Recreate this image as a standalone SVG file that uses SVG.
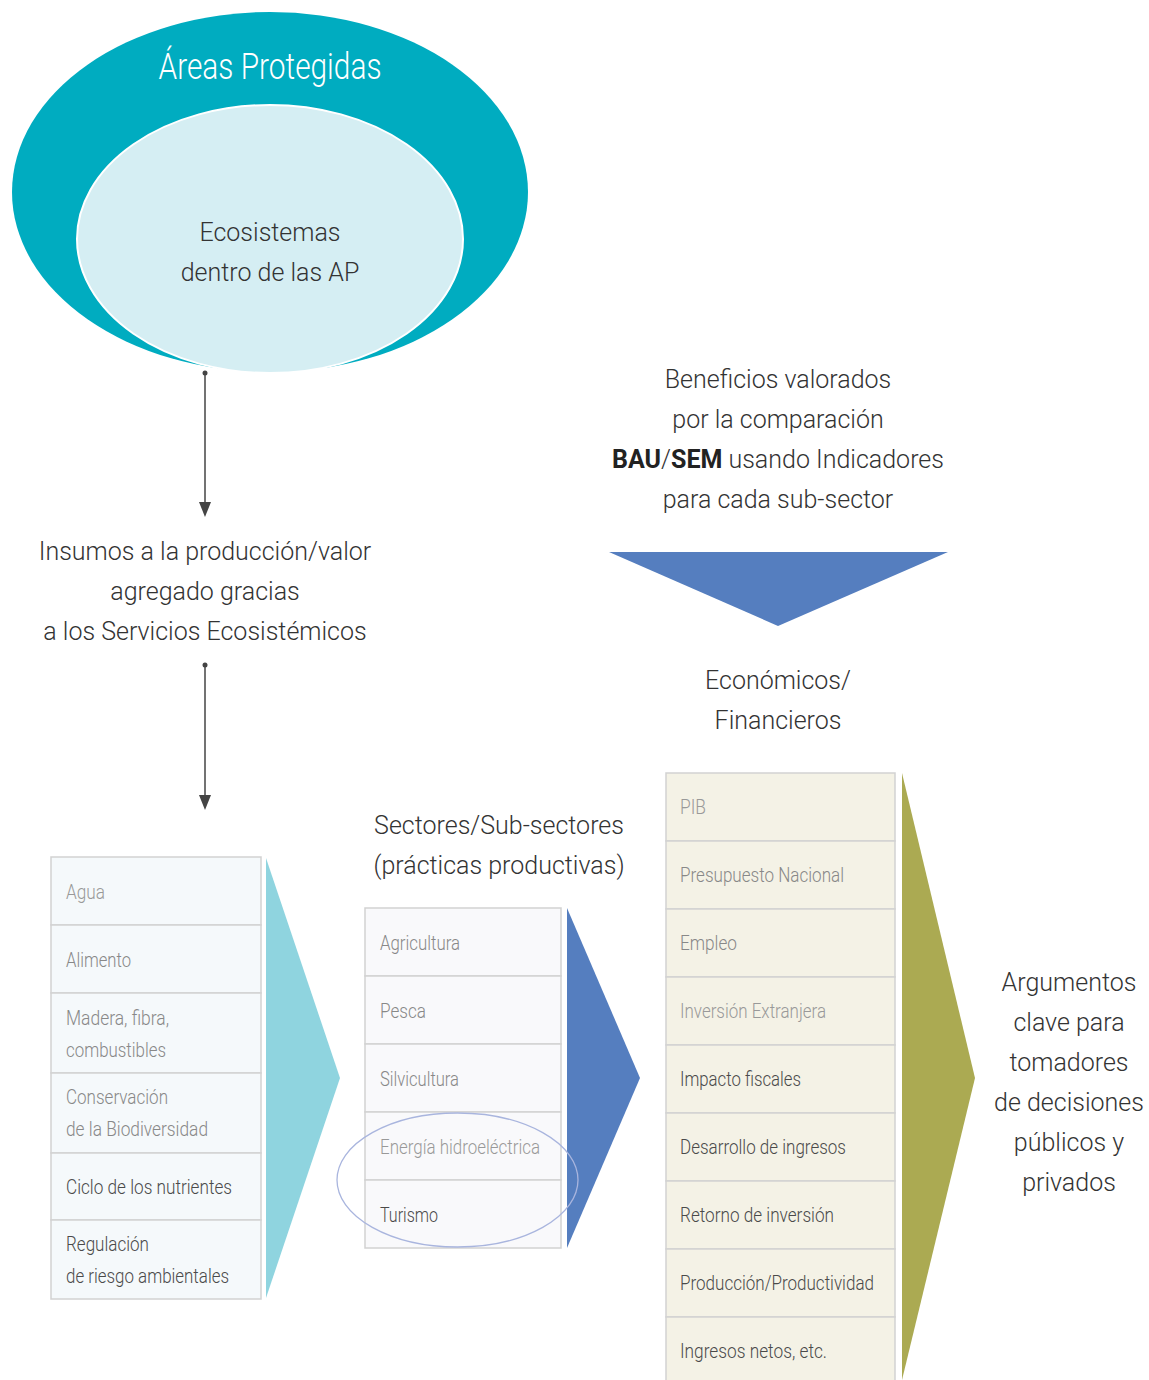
<svg xmlns="http://www.w3.org/2000/svg" width="1149" height="1380" viewBox="0 0 1149 1380">
<style>
.body{font-family:Roboto,"Liberation Sans",sans-serif;font-weight:300;font-size:25px;fill:#333;text-anchor:middle}
.cond text{font-family:Roboto,"Liberation Sans",sans-serif;font-size:21px;font-weight:300}
.l1{fill:#999}.l2{fill:#888}.l3{fill:#4a4a4a}
.cellL{fill:#f5f9fb;stroke:#d2d2d2;stroke-width:1.5}
.cellM{fill:#f9f9fb;stroke:#d2d2d2;stroke-width:1.5}
.cellR{fill:#f4f2e6;stroke:#d2d2d2;stroke-width:1.5}
.conn{stroke:#444;stroke-width:1.5;fill:none}
.head{fill:#444}
</style>
<g id="areas-protegidas">
<ellipse cx="270" cy="192" rx="258" ry="180" fill="#00acc0"/>
<text x="270" y="79" font-family="Roboto,'Liberation Sans',sans-serif" font-weight="300" font-size="37" fill="#fff" text-anchor="middle" textLength="223" lengthAdjust="spacingAndGlyphs">Áreas Protegidas</text>
</g>
<g id="ecosistemas">
<ellipse cx="270" cy="239" rx="193" ry="134" fill="#d5eef3" stroke="#fff" stroke-width="2"/>
<text class="body" x="270" y="241">Ecosistemas</text>
<text class="body" x="270" y="281">dentro de las AP</text>
</g>
<g id="connectors">
<circle cx="205" cy="373" r="2.5" fill="#444"/>
<line class="conn" x1="205" y1="373" x2="205" y2="504"/>
<path class="head" d="M199,502 L211,502 L205,517 Z"/>
<circle cx="205" cy="665" r="2.5" fill="#444"/>
<line class="conn" x1="205" y1="665" x2="205" y2="797"/>
<path class="head" d="M199,795 L211,795 L205,810 Z"/>
</g>
<g id="insumos">
<text class="body" x="205" y="560">Insumos a la producción/valor</text>
<text class="body" x="205" y="600">agregado gracias</text>
<text class="body" x="205" y="640">a los Servicios Ecosistémicos</text>
</g>
<g id="beneficios">
<text class="body" x="778" y="388">Beneficios valorados</text>
<text class="body" x="778" y="428">por la comparación</text>
<text class="body" x="778" y="468"><tspan font-weight="700" fill="#222">BAU</tspan>/<tspan font-weight="700" fill="#222">SEM</tspan> usando Indicadores</text>
<text class="body" x="778" y="508">para cada sub-sector</text>
<polygon points="609,552 948,552 778,626" fill="#557ebf"/>
</g>
<g id="economicos">
<text class="body" x="778" y="689">Económicos/</text>
<text class="body" x="778" y="729">Financieros</text>
</g>
<g id="servicios">
<rect class="cellL" x="51" y="857" width="210" height="68"/>
<rect class="cellL" x="51" y="925" width="210" height="68"/>
<rect class="cellL" x="51" y="993" width="210" height="80"/>
<rect class="cellL" x="51" y="1073" width="210" height="80"/>
<rect class="cellL" x="51" y="1153" width="210" height="67"/>
<rect class="cellL" x="51" y="1220" width="210" height="79"/>
<g class="cond">
<text class="l1" x="66" y="899" textLength="39" lengthAdjust="spacingAndGlyphs">Agua</text>
<text class="l2" x="66" y="967" textLength="65" lengthAdjust="spacingAndGlyphs">Alimento</text>
<text class="l2" x="66" y="1025" textLength="103" lengthAdjust="spacingAndGlyphs">Madera, fibra,</text>
<text class="l2" x="66" y="1057" textLength="100" lengthAdjust="spacingAndGlyphs">combustibles</text>
<text class="l2" x="66" y="1104" textLength="102" lengthAdjust="spacingAndGlyphs">Conservación</text>
<text class="l2" x="66" y="1136" textLength="142" lengthAdjust="spacingAndGlyphs">de la Biodiversidad</text>
<text class="l3" x="66" y="1194" textLength="166" lengthAdjust="spacingAndGlyphs">Ciclo de los nutrientes</text>
<text class="l3" x="66" y="1251" textLength="83" lengthAdjust="spacingAndGlyphs">Regulación</text>
<text class="l3" x="66" y="1283" textLength="163" lengthAdjust="spacingAndGlyphs">de riesgo ambientales</text>
</g>
<polygon points="266,858 340,1078 266,1298" fill="#8fd4df"/>
</g>
<g id="sectores">
<text class="body" x="499" y="834">Sectores/Sub-sectores</text>
<text class="body" x="499" y="874">(prácticas productivas)</text>
<rect class="cellM" x="365" y="908" width="196" height="68"/>
<rect class="cellM" x="365" y="976" width="196" height="68"/>
<rect class="cellM" x="365" y="1044" width="196" height="68"/>
<rect class="cellM" x="365" y="1112" width="196" height="68"/>
<rect class="cellM" x="365" y="1180" width="196" height="68"/>
<g class="cond">
<text class="l2" x="380" y="950" textLength="80" lengthAdjust="spacingAndGlyphs">Agricultura</text>
<text class="l2" x="380" y="1018" textLength="46" lengthAdjust="spacingAndGlyphs">Pesca</text>
<text class="l2" x="380" y="1086" textLength="79" lengthAdjust="spacingAndGlyphs">Silvicultura</text>
<text class="l1" x="380" y="1154" textLength="160" lengthAdjust="spacingAndGlyphs">Energía hidroeléctrica</text>
<text class="l3" x="380" y="1222" textLength="58" lengthAdjust="spacingAndGlyphs">Turismo</text>
</g>
<polygon points="567,908 640,1078 567,1248" fill="#557ebf"/>
<ellipse cx="457.5" cy="1180" rx="120.5" ry="67" fill="none" stroke="#a9b5de" stroke-width="1.3"/>
</g>
<g id="indicadores">
<rect class="cellR" x="666" y="773" width="229" height="68"/>
<rect class="cellR" x="666" y="841" width="229" height="68"/>
<rect class="cellR" x="666" y="909" width="229" height="68"/>
<rect class="cellR" x="666" y="977" width="229" height="68"/>
<rect class="cellR" x="666" y="1045" width="229" height="68"/>
<rect class="cellR" x="666" y="1113" width="229" height="68"/>
<rect class="cellR" x="666" y="1181" width="229" height="68"/>
<rect class="cellR" x="666" y="1249" width="229" height="68"/>
<rect class="cellR" x="666" y="1317" width="229" height="68"/>
<g class="cond">
<text class="l1" x="680" y="814" textLength="26" lengthAdjust="spacingAndGlyphs">PIB</text>
<text class="l2" x="680" y="882" textLength="164" lengthAdjust="spacingAndGlyphs">Presupuesto Nacional</text>
<text class="l2" x="680" y="950" textLength="57" lengthAdjust="spacingAndGlyphs">Empleo</text>
<text class="l1" x="680" y="1018" textLength="146" lengthAdjust="spacingAndGlyphs">Inversión Extranjera</text>
<text class="l3" x="680" y="1086" textLength="121" lengthAdjust="spacingAndGlyphs">Impacto fiscales</text>
<text class="l3" x="680" y="1154" textLength="166" lengthAdjust="spacingAndGlyphs">Desarrollo de ingresos</text>
<text class="l3" x="680" y="1222" textLength="154" lengthAdjust="spacingAndGlyphs">Retorno de inversión</text>
<text class="l3" x="680" y="1290" textLength="194" lengthAdjust="spacingAndGlyphs">Producción/Productividad</text>
<text class="l3" x="680" y="1358" textLength="147" lengthAdjust="spacingAndGlyphs">Ingresos netos, etc.</text>
</g>
<polygon points="902,773 975,1078 902,1380" fill="#abaa52"/>
</g>
<g id="argumentos">
<text class="body" x="1069" y="991">Argumentos</text>
<text class="body" x="1069" y="1031">clave para</text>
<text class="body" x="1069" y="1071">tomadores</text>
<text class="body" x="1069" y="1111">de decisiones</text>
<text class="body" x="1069" y="1151">públicos y</text>
<text class="body" x="1069" y="1191">privados</text>
</g>
</svg>
